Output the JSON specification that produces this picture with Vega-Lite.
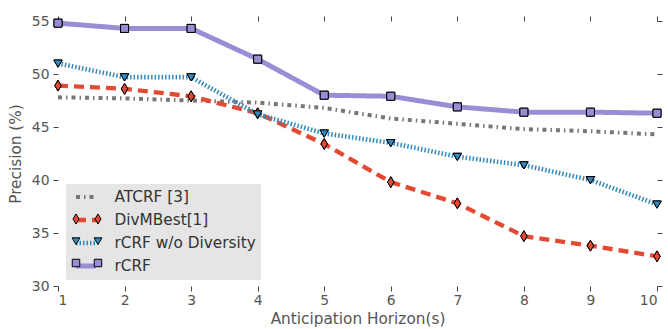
{
  "$schema": "https://vega.github.io/schema/vega-lite/v6.json",
  "width": 599,
  "height": 265,
  "autosize": {"type": "none"},
  "padding": {"left": 58, "top": 21, "right": 11, "bottom": 43},
  "background": "white",
  "config": {
    "view": {"stroke": null},
    "font": "DejaVu Sans",
    "axis": {
      "grid": false, "domain": false, "tickSize": 5, "tickColor": "#444444",
      "labelColor": "#555555", "labelFontSize": 13.9, "labelFont": "DejaVu Sans",
      "titleColor": "#555555", "titleFontSize": 15.3, "titleFontWeight": "normal", "titleFont": "DejaVu Sans"
    },
    "legend": {"orient": "none", "legendX": 8, "legendY": 163, "title": null, "strokeColor": null, "padding": 5, "clipHeight": 16, "rowPadding": 6,
               "labelFontSize": 15.3, "labelColor": "#333333", "labelFont": "DejaVu Sans"}
  },
  "data": {
    "values": [
      {"h": 1, "p": 47.8, "s": "ATCRF [3]"}, {"h": 2, "p": 47.7, "s": "ATCRF [3]"}, {"h": 3, "p": 47.5, "s": "ATCRF [3]"}, {"h": 4, "p": 47.3, "s": "ATCRF [3]"}, {"h": 5, "p": 46.8, "s": "ATCRF [3]"},
      {"h": 6, "p": 45.8, "s": "ATCRF [3]"}, {"h": 7, "p": 45.3, "s": "ATCRF [3]"}, {"h": 8, "p": 44.8, "s": "ATCRF [3]"}, {"h": 9, "p": 44.6, "s": "ATCRF [3]"}, {"h": 10, "p": 44.3, "s": "ATCRF [3]"},
      {"h": 1, "p": 48.9, "s": "DivMBest[1]"}, {"h": 2, "p": 48.6, "s": "DivMBest[1]"}, {"h": 3, "p": 47.9, "s": "DivMBest[1]"}, {"h": 4, "p": 46.3, "s": "DivMBest[1]"}, {"h": 5, "p": 43.4, "s": "DivMBest[1]"},
      {"h": 6, "p": 39.8, "s": "DivMBest[1]"}, {"h": 7, "p": 37.8, "s": "DivMBest[1]"}, {"h": 8, "p": 34.7, "s": "DivMBest[1]"}, {"h": 9, "p": 33.8, "s": "DivMBest[1]"}, {"h": 10, "p": 32.8, "s": "DivMBest[1]"},
      {"h": 1, "p": 51.0, "s": "rCRF w/o Diversity"}, {"h": 2, "p": 49.7, "s": "rCRF w/o Diversity"}, {"h": 3, "p": 49.7, "s": "rCRF w/o Diversity"}, {"h": 4, "p": 46.2, "s": "rCRF w/o Diversity"}, {"h": 5, "p": 44.4, "s": "rCRF w/o Diversity"},
      {"h": 6, "p": 43.5, "s": "rCRF w/o Diversity"}, {"h": 7, "p": 42.2, "s": "rCRF w/o Diversity"}, {"h": 8, "p": 41.4, "s": "rCRF w/o Diversity"}, {"h": 9, "p": 40.0, "s": "rCRF w/o Diversity"}, {"h": 10, "p": 37.7, "s": "rCRF w/o Diversity"},
      {"h": 1, "p": 54.8, "s": "rCRF"}, {"h": 2, "p": 54.3, "s": "rCRF"}, {"h": 3, "p": 54.3, "s": "rCRF"}, {"h": 4, "p": 51.4, "s": "rCRF"}, {"h": 5, "p": 48.0, "s": "rCRF"},
      {"h": 6, "p": 47.9, "s": "rCRF"}, {"h": 7, "p": 46.9, "s": "rCRF"}, {"h": 8, "p": 46.4, "s": "rCRF"}, {"h": 9, "p": 46.4, "s": "rCRF"}, {"h": 10, "p": 46.3, "s": "rCRF"}
    ]
  },
  "layer": [
    {
      "mark": {"type": "line", "strokeCap": "butt", "strokeJoin": "round"},
      "encoding": {
        "x": {"field": "h", "type": "quantitative", "scale": {"domain": [1, 10], "nice": false},
              "axis": {"orient": "bottom", "values": [1,2,3,4,5,6,7,8,9,10], "title": "Anticipation Horizon(s)", "labelPadding": 2, "titlePadding": 5}},
        "y": {"field": "p", "type": "quantitative", "scale": {"domain": [30, 55], "nice": false, "zero": false},
              "axis": {"orient": "left", "values": [30,35,40,45,50,55], "title": "Precision (%)", "labelPadding": 4, "titlePadding": 8}},
        "color": {"field": "s", "type": "nominal",
                  "scale": {"domain": ["ATCRF [3]", "DivMBest[1]", "rCRF w/o Diversity", "rCRF"], "range": ["#777777", "#E24A33", "#348ABD", "#988ED5"]},
                  "legend": {"fillColor": "#E5E5E5", "symbolSize": 400, "symbolType": "stroke", "symbolOffset": 2.5, "labelOffset": 16}},
        "strokeDash": {"field": "s", "type": "nominal",
                       "scale": {"domain": ["ATCRF [3]", "DivMBest[1]", "rCRF w/o Diversity", "rCRF"], "range": [[4, 4, 1.5, 4], [10, 6], [1.5, 2], [1, 0]]}},
        "strokeWidth": {"field": "s", "type": "ordinal",
                        "scale": {"domain": ["ATCRF [3]", "DivMBest[1]", "rCRF w/o Diversity", "rCRF"], "range": [4, 5, 4, 6]}}
      }
    },
    {
      "mark": {"type": "point", "filled": true, "stroke": "black", "strokeWidth": 1, "size": 64, "opacity": 1},
      "encoding": {
        "x": {"field": "h", "type": "quantitative", "axis": {"orient": "top", "labels": false, "title": null, "values": [1,2,3,4,5,6,7,8,9,10]}},
        "y": {"field": "p", "type": "quantitative", "axis": {"orient": "right", "labels": false, "title": null, "values": [30,35,40,45,50,55]}},
        "fill": {"field": "s", "type": "nominal",
                 "scale": {"domain": ["ATCRF [3]", "DivMBest[1]", "rCRF w/o Diversity", "rCRF"], "range": ["#777777", "#E24A33", "#348ABD", "#988ED5"]},
                 "legend": {"symbolSize": 56, "symbolOffset": -2, "symbolStrokeWidth": 1, "labelFontSize": 14, "labelExpr": "''"}},
        "shape": {"field": "s", "type": "nominal",
                  "scale": {"domain": ["ATCRF [3]", "DivMBest[1]", "rCRF w/o Diversity", "rCRF"],
                            "range": ["M0,0", "M0,-1.35L0.8,0L0,1.35L-0.8,0Z", "M-1.05,-0.85H1.05L0,0.95Z", "M-1,-1H1V1H-1Z"]},
                  "legend": {"symbolSize": 56, "symbolOffset": -2, "symbolStrokeWidth": 1, "labelFontSize": 14, "labelExpr": "''"}}
      }
    },
    {
      "mark": {"type": "point", "filled": true, "stroke": "black", "strokeWidth": 1, "size": 64, "opacity": 1},
      "encoding": {
        "x": {"field": "h", "type": "quantitative", "axis": null},
        "y": {"field": "p", "type": "quantitative", "axis": null},
        "fill": {"field": "s", "type": "nominal",
                 "scale": {"domain": ["ATCRF [3]", "DivMBest[1]", "rCRF w/o Diversity", "rCRF"], "range": ["#777777", "#E24A33", "#348ABD", "#988ED5"]},
                 "legend": {"symbolSize": 56, "symbolOffset": 20, "symbolStrokeWidth": 1, "labelFontSize": 14, "labelExpr": "''"}},
        "shape": {"field": "s", "type": "nominal",
                  "scale": {"domain": ["ATCRF [3]", "DivMBest[1]", "rCRF w/o Diversity", "rCRF"],
                            "range": ["M0,0", "M0,-1.35L0.8,0L0,1.35L-0.8,0Z", "M-1.05,-0.85H1.05L0,0.95Z", "M-1,-1H1V1H-1Z"]},
                  "legend": {"symbolSize": 56, "symbolOffset": 20, "symbolStrokeWidth": 1, "labelFontSize": 14, "labelExpr": "''"}}
      }
    }
  ],
  "resolve": {"axis": {"x": "independent", "y": "independent"}, "scale": {"fill": "independent", "shape": "independent"}}
}
